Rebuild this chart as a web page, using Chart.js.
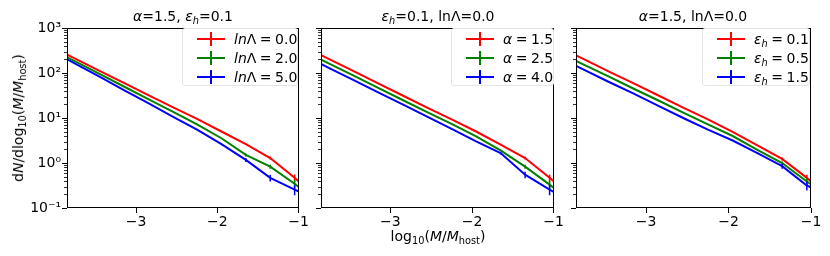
<!DOCTYPE html>
<html>
<head>
<meta charset="utf-8">
<script src="https://cdn.jsdelivr.net/npm/chart.js@4.4.1/dist/chart.umd.min.js"></script>
<style>
body { margin:0; background:#fff; width:830px; height:256px; position:relative; overflow:hidden;
       font-family:"DejaVu Sans", sans-serif; font-size:14px; color:#000; }
canvas { position:absolute; top:0; }
.title { position:absolute; top:8px; transform:translateX(-50%); white-space:nowrap; line-height:16px; }
sub { font-size:70%; vertical-align:baseline; position:relative; top:0.3em; line-height:0; }
.ylab { position:absolute; left:18px; top:118px; transform:translate(-50%,-50%) rotate(-90deg); white-space:nowrap; }
.xlab { position:absolute; left:438px; top:236px; transform:translate(-50%,-50%); white-space:nowrap; }
.legend { position:absolute; background:rgba(255,255,255,0.8); border:1px solid #e4e4e4; border-radius:3px; box-sizing:border-box; }
.row { height:19.3px; display:flex; align-items:center; white-space:nowrap; }
.handle { flex:none; position:relative; width:28px; height:2px; margin-left:14px; margin-right:9px; }
.handle span { position:absolute; left:13px; top:-6px; width:2px; height:14px; }
</style>
</head>
<body>
<canvas id="c1" width="310" height="256" style="left:0px"></canvas>
<canvas id="c2" width="255" height="256" style="left:310px"></canvas>
<canvas id="c3" width="265" height="256" style="left:565px"></canvas>

<div class="title" style="left:183px"><i>α</i>=1.5, <i>ε<sub>h</sub></i>=0.1</div>
<div class="title" style="left:438px"><i>ε<sub>h</sub></i>=0.1, lnΛ=0.0</div>
<div class="title" style="left:693px"><i>α</i>=1.5, lnΛ=0.0</div>
<div class="ylab">d<i>N</i>/dlog<sub>10</sub>(<i>M</i>/<i>M</i><sub>host</sub>)</div>
<div class="xlab">log<sub>10</sub>(<i>M</i>/<i>M</i><sub>host</sub>)</div>

<div class="legend" id="lg1" style="left:182px; top:28px; width:116px; height:58px"></div>
<div class="legend" id="lg2" style="left:451px; top:28px; width:103px; height:58px"></div>
<div class="legend" id="lg3" style="left:702px; top:28px; width:108px; height:58px"></div>

<script>
// log10(M/Mhost) bin centres
const massBins = [-4.05, -3.75, -3.45, -3.15, -2.85, -2.55, -2.25, -1.95, -1.65, -1.35, -1.05, -0.75];

// panel 1: varying lnΛ
const p1Red   = [389, 209, 112, 60.3, 32.4, 17.4, 9.55, 5.01, 2.63, 1.29, 0.468, 0.158];
const p1Green = [339, 182, 95.5, 50.1, 26.3, 13.8, 7.24, 3.55, 1.51, 0.832, 0.347, 0.126];
const p1Blue  = [324, 162, 83.2, 41.7, 21.4, 10.7, 5.50, 2.63, 1.17, 0.468, 0.257, 0.141];
const e1Red   = [0, 0, 0, 0, 0, 0, 0, 0, 0.05, 0.10, 0.09, 0];
const e1Green = [0, 0, 0, 0, 0, 0, 0, 0, 0.12, 0.085, 0.08, 0];
const e1Blue  = [0, 0, 0, 0, 0, 0, 0, 0, 0.12, 0.08, 0.065, 0];

// panel 2: varying alpha
const p2Red   = [380, 204, 110, 58.9, 31.6, 17.0, 9.33, 5.01, 2.57, 1.29, 0.468, 0.158];
const p2Green = [302, 162, 87.1, 46.8, 25.1, 13.5, 7.41, 3.89, 1.91, 0.832, 0.331, 0.126];
const p2Blue  = [240, 129, 69.2, 37.2, 20.0, 10.7, 5.75, 3.02, 1.66, 0.550, 0.257, 0.126];
const e2Red   = [0, 0, 0, 0, 0, 0, 0, 0, 0.05, 0.10, 0.08, 0];
const e2Green = [0, 0, 0, 0, 0, 0, 0, 0, 0.06, 0.085, 0.08, 0];
const e2Blue  = [0, 0, 0, 0, 0, 0, 0, 0, 0.12, 0.09, 0.065, 0];

// panel 3: varying eps_h
const p3Red   = [372, 200, 107, 58.9, 31.6, 17.0, 9.33, 4.90, 2.45, 1.23, 0.468, 0.141];
const p3Green = [282, 151, 83.2, 44.7, 24.5, 13.2, 7.24, 3.98, 1.95, 1.00, 0.389, 0.158];
const p3Blue  = [219, 117, 63.1, 34.7, 18.6, 10.0, 5.50, 3.16, 1.66, 0.851, 0.316, 0.178];
const e3Red   = [0, 0, 0, 0, 0, 0, 0, 0, 0.05, 0.10, 0.08, 0];
const e3Green = [0, 0, 0, 0, 0, 0, 0, 0, 0.06, 0.08, 0.07, 0];
const e3Blue  = [0, 0, 0, 0, 0, 0, 0, 0, 0.08, 0.11, 0.07, 0];

const legend1 = ['<i>ln</i>Λ\u2005=\u20050.0', '<i>ln</i>Λ\u2005=\u20052.0', '<i>ln</i>Λ\u2005=\u20055.0'];
const legend2 = ['<i>α</i>\u2005=\u20051.5', '<i>α</i>\u2005=\u20052.5', '<i>α</i>\u2005=\u20054.0'];
const legend3 = ['<i>ε<sub>h</sub></i>\u2005=\u20050.1', '<i>ε<sub>h</sub></i>\u2005=\u20050.5', '<i>ε<sub>h</sub></i>\u2005=\u20051.5'];

const xTicks = [-3, -2, -1];
const yTicks = [0.1, 1, 10, 100, 1000];
const yTickLabels = ['10⁻¹', '10⁰', '10¹', '10²', '10³'];

const colors = ['#ff0000', '#008000', '#0000ff'];
const FONT = { family: 'DejaVu Sans', size: 14 };

const axesFrame = {
    id: 'axesFrame',
    afterDraw(chart) {
        const { ctx, chartArea: a, scales: { y } } = chart;
        ctx.save();
        ctx.strokeStyle = '#000';
        // minor log ticks
        ctx.lineWidth = 0.8;
        for (let d = -1; d < 3; d++) {
            for (let m = 2; m < 10; m++) {
                const py = Math.round(y.getPixelForValue(m * Math.pow(10, d))) + 0.5;
                ctx.beginPath();
                ctx.moveTo(a.left - 3, py);
                ctx.lineTo(a.left, py);
                ctx.stroke();
            }
        }
        ctx.lineWidth = 1;
        ctx.strokeRect(Math.round(a.left) + 0.5, Math.round(a.top) + 0.5,
                       Math.round(a.width) - 1, Math.round(a.height) - 1);
        ctx.restore();
    }
};

const errorBars = {
    id: 'errorBars',
    afterDatasetsDraw(chart) {
        const { ctx, chartArea: a, scales: { x, y } } = chart;
        ctx.save();
        ctx.beginPath();
        ctx.rect(a.left, a.top, a.width, a.height);
        ctx.clip();
        chart.data.datasets.forEach(ds => {
            ctx.strokeStyle = ds.borderColor;
            ctx.lineWidth = 1.5;
            ds.data.forEach((p, i) => {
                const e = ds.errs[i];
                if (!e) return;
                const px = x.getPixelForValue(p.x);
                ctx.beginPath();
                ctx.moveTo(px, y.getPixelForValue(p.y - e));
                ctx.lineTo(px, y.getPixelForValue(p.y + e));
                ctx.stroke();
            });
        });
        ctx.restore();
    }
};

function makePanel(id, series, errs, labels, opts) {
    const datasets = series.map((vals, k) => ({
        label: labels[k],
        data: vals.map((v, i) => ({ x: massBins[i], y: v })),
        errs: errs[k],
        borderColor: colors[k],
        borderWidth: 2,
        pointRadius: 0,
        tension: 0,
        clip: 0
    }));

    new Chart(document.getElementById(id), {
        type: 'line',
        data: { datasets },
        options: {
            responsive: false,
            animation: false,
            layout: { padding: { left: 0, top: 28, right: opts.padRight, bottom: 0 } },
            plugins: { legend: { display: false }, tooltip: { enabled: false } },
            scales: {
                x: {
                    type: 'linear',
                    min: -3.85,
                    max: -1,
                    afterBuildTicks: s => { s.ticks = xTicks.map(v => ({ value: v })); },
                    afterFit: s => { s.height = 48; },
                    ticks: {
                        color: '#000',
                        font: FONT,
                        padding: 1,
                        maxRotation: 0,
                        autoSkip: false,
                        callback: v => '\u2212' + Math.abs(v)
                    },
                    grid: { drawOnChartArea: false, tickLength: 5, tickColor: '#000', tickWidth: 1 },
                    border: { display: false }
                },
                y: {
                    type: 'logarithmic',
                    min: 0.1,
                    max: 1000,
                    afterBuildTicks: s => { s.ticks = yTicks.map(v => ({ value: v })); },
                    afterFit: s => { s.width = opts.yWidth; },
                    ticks: {
                        color: '#000',
                        font: FONT,
                        padding: 1,
                        autoSkip: false,
                        callback: (v, i) => opts.showY ? yTickLabels[i] : ''
                    },
                    grid: { drawOnChartArea: false, tickLength: 5, tickColor: '#000', tickWidth: 1 },
                    border: { display: false }
                }
            }
        },
        plugins: [errorBars, axesFrame]
    });

    const lg = document.getElementById(opts.legend);
    labels.forEach((txt, k) => {
        const row = document.createElement('div');
        row.className = 'row';
        row.innerHTML = '<div class="handle" style="background:' + colors[k] + '"><span style="background:' +
            colors[k] + '"></span></div><div>' + txt + '</div>';
        lg.appendChild(row);
    });
}

makePanel('c1', [p1Red, p1Green, p1Blue], [e1Red, e1Green, e1Blue], legend1,
          { padRight: 10, yWidth: 67, showY: true, legend: 'lg1' });
makePanel('c2', [p2Red, p2Green, p2Blue], [e2Red, e2Green, e2Blue], legend2,
          { padRight: 10, yWidth: 11, showY: false, legend: 'lg2' });
makePanel('c3', [p3Red, p3Green, p3Blue], [e3Red, e3Green, e3Blue], legend3,
          { padRight: 19, yWidth: 11, showY: false, legend: 'lg3' });
</script>
</body>
</html>
